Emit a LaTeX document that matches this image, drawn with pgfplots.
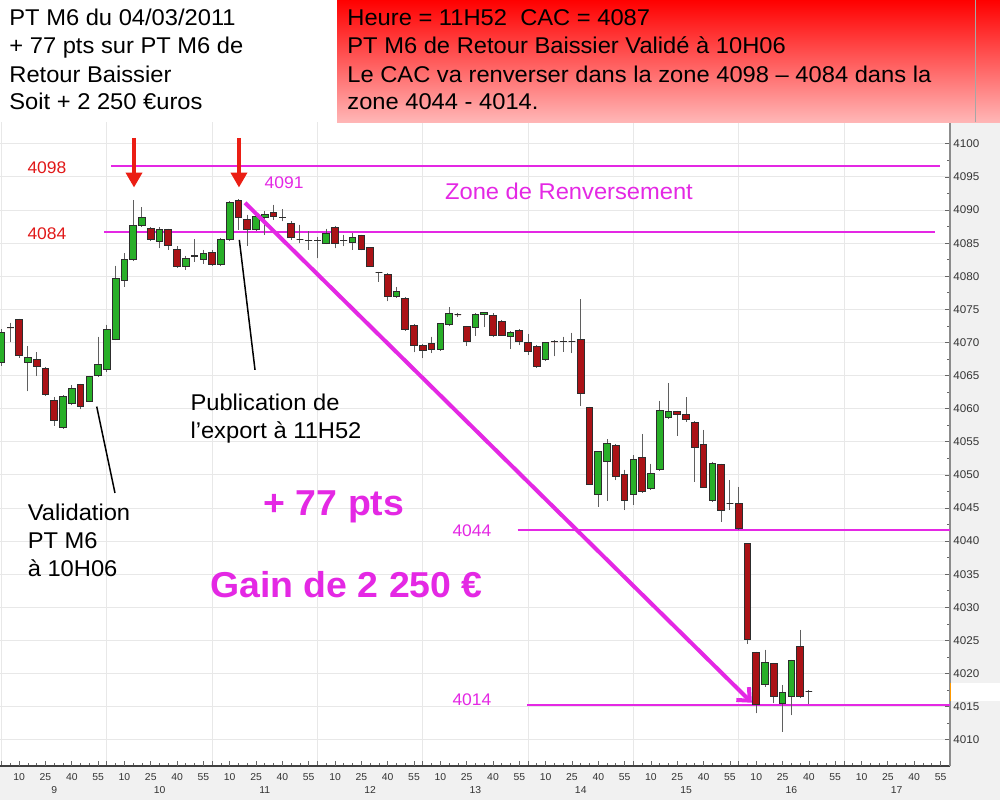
\documentclass[border=0pt]{standalone}
\usepackage{fontspec}
\setmainfont{Liberation Sans}[FakeStretch=1.04]
\usepackage{pgfplots}
\pgfplotsset{compat=1.18}
\usepgfplotslibrary{statistics}
\usetikzlibrary{arrows.meta}
\definecolor{mag}{RGB}{228,40,228}
\definecolor{lblred}{RGB}{225,25,25}
\definecolor{arrred}{RGB}{235,30,20}
\definecolor{cgreen}{RGB}{40,175,40}
\definecolor{cred}{RGB}{170,18,22}
\definecolor{cedge}{RGB}{45,45,45}
\definecolor{wick}{RGB}{95,95,95}
\definecolor{gridc}{RGB}{232,232,232}
\definecolor{outbg}{RGB}{241,241,241}
\definecolor{pinkb}{RGB}{255,182,182}
\pgfplotsset{candle/.style={boxplot/draw direction=y, boxplot/box extend=0.76,
  boxplot/whisker extend=0, line width=0.5pt, draw=cedge,
  boxplot/every whisker/.style={draw=wick}, boxplot/every box/.style={draw=cedge}}}
% \candle{n}{open}{high}{low}{close}
\newcommand\candle[5]{%
  \ifdim #2pt<#5pt \def\cc{cgreen}\def\lo{#2}\def\hi{#5}\else \def\cc{cred}\def\lo{#5}\def\hi{#2}\fi
  \edef\tmp{\noexpand\addplot[candle, fill=\cc, boxplot prepared={draw position=#1, lower whisker=#4, lower quartile=\lo, median=\lo, upper quartile=\hi, upper whisker=#3}] coordinates {};}\tmp}
\begin{document}
\begin{tikzpicture}
\path[use as bounding box, fill=outbg] (0,0) rectangle (500pt,400pt);
\begin{axis}[
  at={(0pt,17pt)}, anchor=south west,
  scale only axis, width=475pt, height=323pt,
  xmin=-0.182, xmax=108.08, ymin=4006.04, ymax=4103.6,
  axis x line*=bottom, axis y line*=right,
  x axis line style={-, draw=black!75, line width=0.7pt},
  y axis line style={-, draw=black!45, line width=0.9pt},
  axis background/.style={fill=white},
  clip=false,
  xtick={0,12,...,108}, xticklabels={},
  minor xtick={0,...,108},
  extra x ticks={2,5,...,107},
  extra x tick labels={10,25,40,55,10,25,40,55,10,25,40,55,10,25,40,55,10,25,40,55,10,25,40,55,10,25,40,55,10,25,40,55,10,25,40,55},
  extra x tick style={grid=none, xticklabel style={font=\fontsize{5}{6}\selectfont, text=black!80, anchor=center, yshift=-5.5pt}},
  ytick={4010,4015,...,4100}, minor y tick num=1,
  yticklabel style={font=\fontsize{5.6}{6}\selectfont, text=black!80, anchor=west, inner sep=0pt, xshift=1.5pt},
  /pgf/number format/.cd, 1000 sep={}, assume math mode=true, /pgfplots/.cd,
  xmajorgrids, ymajorgrids, grid style={draw=gridc, line width=0.5pt},
  tick align=inside, major tick length=2.6pt, minor tick length=1.6pt,
  tick style={draw=black!60, line width=0.4pt},
]
% zone lines
\addplot[mag, line width=1pt] coordinates {(12.5,4096.7) (106.9,4096.7)};
\addplot[mag, line width=1pt] coordinates {(11.7,4086.75) (106.4,4086.75)};
\addplot[mag, line width=1pt] coordinates {(58.8,4041.7) (108.08,4041.7)};
\addplot[mag, line width=1pt] coordinates {(59.9,4015.3) (108.08,4015.3)};
% candles
\candle{0}{4067}{4072}{4066.5}{4071.5}
\candle{1}{4072.2}{4073}{4070}{4072.2}
\candle{2}{4073.4}{4073.6}{4067.7}{4068}
\candle{3}{4067}{4069.4}{4062.6}{4067.8}
\candle{4}{4067.4}{4068.5}{4064.9}{4066.4}
\candle{5}{4066.1}{4066.3}{4062}{4062.1}
\candle{6}{4061.2}{4061.8}{4057.4}{4058.2}
\candle{7}{4057.2}{4062}{4057}{4061.8}
\candle{8}{4060.8}{4063.6}{4060.5}{4063}
\candle{9}{4063.6}{4063.8}{4059.9}{4060.3}
\candle{10}{4061.1}{4065}{4061}{4064.9}
\candle{11}{4065}{4070.9}{4064.9}{4066.6}
\candle{12}{4065.9}{4072.7}{4065.6}{4071.9}
\candle{13}{4070.5}{4081.6}{4070.3}{4079.6}
\candle{14}{4079.3}{4083.5}{4078.4}{4082.5}
\candle{15}{4082.5}{4091.5}{4082.3}{4087.6}
\candle{16}{4087.6}{4090.4}{4087.5}{4088.8}
\candle{17}{4087.2}{4087.4}{4085.3}{4085.6}
\candle{18}{4085.3}{4087.4}{4084.2}{4087}
\candle{19}{4087}{4087.2}{4084}{4084.7}
\candle{20}{4084.1}{4084.5}{4081.3}{4081.5}
\candle{21}{4081.4}{4083.1}{4081}{4082.7}
\candle{22}{4083}{4085.6}{4082.2}{4083.2}
\candle{23}{4082.5}{4084}{4081.9}{4083.5}
\candle{24}{4083.6}{4084}{4081.6}{4081.8}
\candle{25}{4081.7}{4085.8}{4081.5}{4085.5}
\candle{26}{4085.5}{4091.3}{4085.3}{4091.1}
\candle{27}{4091.4}{4091.6}{4087}{4088.8}
\candle{28}{4088.6}{4089.3}{4084.6}{4087}
\candle{29}{4087}{4089.2}{4086.8}{4089}
\candle{30}{4088.8}{4089.8}{4086.3}{4089.4}
\candle{31}{4089.6}{4090.8}{4088.5}{4089}
\candle{32}{4088.9}{4090.1}{4088.3}{4088.9}
\candle{33}{4087.9}{4088.3}{4085.5}{4085.8}
\candle{34}{4085.6}{4087.8}{4085}{4085.6}
\candle{35}{4085.4}{4086.8}{4084}{4085.4}
\candle{36}{4085.4}{4086}{4082.7}{4085.4}
\candle{37}{4085}{4087.2}{4084.8}{4086.5}
\candle{38}{4087.3}{4087.6}{4084.2}{4085}
\candle{39}{4085.4}{4086.3}{4084.5}{4085.4}
\candle{40}{4085.1}{4086.5}{4084}{4085.9}
\candle{41}{4086.1}{4086.3}{4083.9}{4084.1}
\candle{42}{4084.3}{4084.4}{4081.4}{4081.5}
\candle{43}{4080.6}{4080.7}{4079.2}{4080.6}
\candle{44}{4080.3}{4080.5}{4076.2}{4076.9}
\candle{45}{4076.9}{4078.4}{4076.8}{4077.7}
\candle{46}{4076.6}{4076.8}{4071.8}{4072}
\candle{47}{4072.6}{4072.8}{4068.5}{4069.6}
\candle{48}{4069.5}{4069.8}{4067.6}{4068.8}
\candle{49}{4069.8}{4070.9}{4068.4}{4069}
\candle{50}{4068.9}{4072.9}{4068.8}{4072.8}
\candle{51}{4072.7}{4075.3}{4072.5}{4074.4}
\candle{52}{4074.2}{4074.5}{4073.9}{4074.2}
\candle{53}{4072.4}{4072.5}{4069.5}{4070.2}
\candle{54}{4072.3}{4074.4}{4071}{4074.2}
\candle{55}{4074.2}{4074.6}{4072.3}{4074.5}
\candle{56}{4074}{4074.4}{4070.8}{4071}
\candle{57}{4073.2}{4073.4}{4071}{4071.1}
\candle{58}{4070.9}{4071.7}{4069}{4071.5}
\candle{59}{4071.8}{4072}{4069.6}{4070.2}
\candle{60}{4070}{4071.3}{4068.1}{4068.6}
\candle{61}{4069.4}{4069.6}{4066.2}{4066.4}
\candle{62}{4067.4}{4070.1}{4067.2}{4070}
\candle{63}{4070.1}{4070.3}{4067.9}{4070.1}
\candle{64}{4070.2}{4070.9}{4068.6}{4070.2}
\candle{65}{4070.2}{4071.5}{4068.4}{4070.2}
\candle{66}{4070.4}{4076.5}{4060.4}{4062.3}
\candle{67}{4060.2}{4060.3}{4048.5}{4048.6}
\candle{68}{4047.1}{4053.6}{4045.2}{4053.5}
\candle{69}{4052}{4055.4}{4046.1}{4054.7}
\candle{70}{4054.5}{4054.6}{4049.2}{4049.8}
\candle{71}{4050}{4050.8}{4044.7}{4046.2}
\candle{72}{4047}{4053}{4045.5}{4052.4}
\candle{73}{4052.6}{4056.2}{4047.3}{4047.5}
\candle{74}{4047.9}{4051.7}{4047.8}{4050.2}
\candle{75}{4050.8}{4061.2}{4050.7}{4059.7}
\candle{76}{4058.6}{4063.9}{4058.5}{4059.6}
\candle{77}{4059.6}{4059.7}{4055.9}{4059.1}
\candle{78}{4059.1}{4061.7}{4058}{4058.4}
\candle{79}{4057.9}{4058.1}{4049}{4054.2}
\candle{80}{4054.6}{4056.8}{4048}{4048.1}
\candle{81}{4046.1}{4052}{4046}{4051.7}
\candle{82}{4051.5}{4051.7}{4042.9}{4044.7}
\candle{83}{4045.7}{4049.2}{4044.7}{4045.7}
\candle{84}{4045.7}{4048.2}{4041.8}{4041.9}
\candle{85}{4039.6}{4039.7}{4024.5}{4025.2}
\candle{86}{4023.2}{4023.3}{4014}{4015.4}
\candle{87}{4018.3}{4023.6}{4018}{4021.7}
\candle{88}{4021.5}{4021.6}{4015.5}{4016.6}
\candle{89}{4015.5}{4018.3}{4011.2}{4017.2}
\candle{90}{4016.6}{4022.1}{4013.7}{4022}
\candle{91}{4024.1}{4026.6}{4016.3}{4016.5}
\candle{92}{4017.3}{4017.5}{4015.4}{4017.3}
% annotations
\addplot[mag, line width=2pt, -{Straight Barb[length=5pt,width=9pt,line width=2pt]}] coordinates {(27.74,4091.1) (85.5,4015.6)};
\addplot[arrred, line width=2.2pt, -{Triangle[length=7.5pt,width=8pt]}] coordinates {(15.09,4100.9) (15.09,4093.4)};
\addplot[arrred, line width=2.2pt, -{Triangle[length=7.5pt,width=8pt]}] coordinates {(27.05,4100.9) (27.05,4093.4)};
\addplot[black, line width=0.75pt] coordinates {(27.09,4085.5) (28.88,4065.86)};
\addplot[black, line width=0.75pt] coordinates {(10.84,4060.32) (12.92,4047.28)};
\node[text=lblred, font=\fontsize{8.4}{10}\selectfont] at (axis cs:5.17,4096.37) {4098};
\node[text=lblred, font=\fontsize{8.4}{10}\selectfont] at (axis cs:5.17,4086.4) {4084};
\node[text=mag, font=\fontsize{8.4}{10}\selectfont] at (axis cs:32.2,4094.1) {4091};
\node[text=mag, font=\fontsize{8.4}{10}\selectfont] at (axis cs:53.6,4041.5) {4044};
\node[text=mag, font=\fontsize{8.4}{10}\selectfont] at (axis cs:53.6,4016.0) {4014};
\node[text=mag, font=\fontsize{11.4}{14}\selectfont] at (axis cs:64.66,4092.75) {Zone de Renversement};
\node[text=mag, font=\fontsize{18}{22}\selectfont\bfseries] at (axis cs:37.88,4045.2) {+ 77 pts};
\node[text=mag, font=\fontsize{18}{22}\selectfont\bfseries] at (axis cs:39.3,4033.4) {Gain de 2 250 €};
\node[align=left, font=\fontsize{11.4}{14}\selectfont] at (axis cs:31.27,4058.5) {Publication de\\l’export à 11H52};
\node[align=left, font=\fontsize{11.4}{14}\selectfont] at (axis cs:8.82,4040.1) {Validation\\PT M6\\à 10H06};
% hour labels
\node[font=\fontsize{5}{6}\selectfont, text=black!80] at (axis cs:6,4006.04) [yshift=-12pt] {9};
\node[font=\fontsize{5}{6}\selectfont, text=black!80] at (axis cs:18,4006.04) [yshift=-12pt] {10};
\node[font=\fontsize{5}{6}\selectfont, text=black!80] at (axis cs:30,4006.04) [yshift=-12pt] {11};
\node[font=\fontsize{5}{6}\selectfont, text=black!80] at (axis cs:42,4006.04) [yshift=-12pt] {12};
\node[font=\fontsize{5}{6}\selectfont, text=black!80] at (axis cs:54,4006.04) [yshift=-12pt] {13};
\node[font=\fontsize{5}{6}\selectfont, text=black!80] at (axis cs:66,4006.04) [yshift=-12pt] {14};
\node[font=\fontsize{5}{6}\selectfont, text=black!80] at (axis cs:78,4006.04) [yshift=-12pt] {15};
\node[font=\fontsize{5}{6}\selectfont, text=black!80] at (axis cs:90,4006.04) [yshift=-12pt] {16};
\node[font=\fontsize{5}{6}\selectfont, text=black!80] at (axis cs:102,4006.04) [yshift=-12pt] {17};
\end{axis}
% last price marker
\fill[white] (475.6pt,49.5pt) rectangle (500pt,58.5pt);
\draw[orange!80!yellow, line width=0.8pt] (475.3pt,49.5pt) -- (475.3pt,58.5pt);
% header boxes
\fill[white] (0,339pt) rectangle (168.5pt,400pt);
\shade[top color=red, bottom color=pinkb] (168.5pt,339pt) rectangle (500pt,400pt);
\draw[black!35, line width=0.4pt] (487.5pt,339pt) -- (487.5pt,400pt);
\begin{scope}[every node/.style={anchor=base west, inner sep=0pt, font=\fontsize{11.4}{14}\selectfont}]
\node at (4.5pt,387pt) {PT M6 du 04/03/2011};
\node at (4.5pt,373pt) {+ 77 pts sur PT M6 de};
\node at (4.5pt,359pt) {Retour Baissier};
\node at (4.5pt,345pt) {Soit + 2 250 €uros};
\node at (173.5pt,387pt) {Heure = 11H52\ \ CAC = 4087};
\node at (173.5pt,373pt) {PT M6 de Retour Baissier Validé à 10H06};
\node at (173.5pt,359pt) {Le CAC va renverser dans la zone 4098 – 4084 dans la};
\node at (173.5pt,345pt) {zone 4044 - 4014.};
\end{scope}
\end{tikzpicture}
\end{document}
